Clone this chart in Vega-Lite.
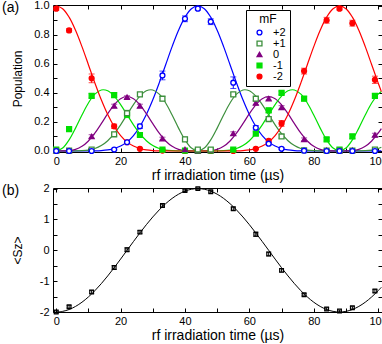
{
"$schema":"https://vega.github.io/schema/vega-lite/v6.json",
"autosize":{"type":"pad"},
"padding":{"left":1,"top":-1,"right":0,"bottom":0},
"background":"white",
"datasets":{
"curves":[
{"t":0,"-2":1,"-1":0,"0":0,"+1":0,"+2":0,"Sz":-2},
{"t":2,"-2":0.9798,"-1":0.02,"0":0.0002,"+1":0,"+2":0,"Sz":-1.9796},
{"t":4,"-2":0.9214,"-1":0.0762,"0":0.0024,"+1":0,"+2":0,"Sz":-1.919},
{"t":6,"-2":0.8311,"-1":0.1573,"0":0.0112,"+1":0.0004,"+2":0,"Sz":-1.8193},
{"t":8,"-2":0.7183,"-1":0.2477,"0":0.032,"+1":0.0018,"+2":0,"Sz":-1.6825},
{"t":10,"-2":0.5939,"-1":0.3305,"0":0.069,"+1":0.0064,"+2":0.0002,"Sz":-1.5115},
{"t":12,"-2":0.4687,"-1":0.391,"0":0.1223,"+1":0.017,"+2":0.0009,"Sz":-1.3097},
{"t":14,"-2":0.3521,"-1":0.42,"0":0.1878,"+1":0.0373,"+2":0.0028,"Sz":-1.0813},
{"t":16,"-2":0.2509,"-1":0.4144,"0":0.2567,"+1":0.0707,"+2":0.0073,"Sz":-0.8308},
{"t":18,"-2":0.1687,"-1":0.3781,"0":0.3178,"+1":0.1187,"+2":0.0166,"Sz":-0.5635},
{"t":20,"-2":0.1064,"-1":0.3196,"0":0.36,"+1":0.1802,"+2":0.0338,"Sz":-0.2846},
{"t":22,"-2":0.0625,"-1":0.25,"0":0.375,"+1":0.25,"+2":0.0625,"Sz":0},
{"t":24,"-2":0.0338,"-1":0.1802,"0":0.36,"+1":0.3196,"+2":0.1064,"Sz":0.2846},
{"t":26,"-2":0.0166,"-1":0.1187,"0":0.3178,"+1":0.3781,"+2":0.1687,"Sz":0.5635},
{"t":28,"-2":0.0073,"-1":0.0707,"0":0.2567,"+1":0.4144,"+2":0.2509,"Sz":0.8308},
{"t":30,"-2":0.0028,"-1":0.0373,"0":0.1878,"+1":0.42,"+2":0.3521,"Sz":1.0813},
{"t":32,"-2":0.0009,"-1":0.017,"0":0.1223,"+1":0.391,"+2":0.4687,"Sz":1.3097},
{"t":34,"-2":0.0002,"-1":0.0064,"0":0.069,"+1":0.3305,"+2":0.5939,"Sz":1.5115},
{"t":36,"-2":0,"-1":0.0018,"0":0.032,"+1":0.2477,"+2":0.7183,"Sz":1.6825},
{"t":38,"-2":0,"-1":0.0004,"0":0.0112,"+1":0.1573,"+2":0.8311,"Sz":1.8193},
{"t":40,"-2":0,"-1":0,"0":0.0024,"+1":0.0762,"+2":0.9214,"Sz":1.919},
{"t":42,"-2":0,"-1":0,"0":0.0002,"+1":0.02,"+2":0.9798,"Sz":1.9796},
{"t":44,"-2":0,"-1":0,"0":0,"+1":0,"+2":1,"Sz":2},
{"t":46,"-2":0,"-1":0,"0":0.0002,"+1":0.02,"+2":0.9798,"Sz":1.9796},
{"t":48,"-2":0,"-1":0,"0":0.0024,"+1":0.0762,"+2":0.9214,"Sz":1.919},
{"t":50,"-2":0,"-1":0.0004,"0":0.0112,"+1":0.1573,"+2":0.8311,"Sz":1.8193},
{"t":52,"-2":0,"-1":0.0018,"0":0.032,"+1":0.2477,"+2":0.7183,"Sz":1.6825},
{"t":54,"-2":0.0002,"-1":0.0064,"0":0.069,"+1":0.3305,"+2":0.5939,"Sz":1.5115},
{"t":56,"-2":0.0009,"-1":0.017,"0":0.1223,"+1":0.391,"+2":0.4687,"Sz":1.3097},
{"t":58,"-2":0.0028,"-1":0.0373,"0":0.1878,"+1":0.42,"+2":0.3521,"Sz":1.0813},
{"t":60,"-2":0.0073,"-1":0.0707,"0":0.2567,"+1":0.4144,"+2":0.2509,"Sz":0.8308},
{"t":62,"-2":0.0166,"-1":0.1187,"0":0.3178,"+1":0.3781,"+2":0.1687,"Sz":0.5635},
{"t":64,"-2":0.0338,"-1":0.1802,"0":0.36,"+1":0.3196,"+2":0.1064,"Sz":0.2846},
{"t":66,"-2":0.0625,"-1":0.25,"0":0.375,"+1":0.25,"+2":0.0625,"Sz":0},
{"t":68,"-2":0.1064,"-1":0.3196,"0":0.36,"+1":0.1802,"+2":0.0338,"Sz":-0.2846},
{"t":70,"-2":0.1687,"-1":0.3781,"0":0.3178,"+1":0.1187,"+2":0.0166,"Sz":-0.5635},
{"t":72,"-2":0.2509,"-1":0.4144,"0":0.2567,"+1":0.0707,"+2":0.0073,"Sz":-0.8308},
{"t":74,"-2":0.3521,"-1":0.42,"0":0.1878,"+1":0.0373,"+2":0.0028,"Sz":-1.0813},
{"t":76,"-2":0.4687,"-1":0.391,"0":0.1223,"+1":0.017,"+2":0.0009,"Sz":-1.3097},
{"t":78,"-2":0.5939,"-1":0.3305,"0":0.069,"+1":0.0064,"+2":0.0002,"Sz":-1.5115},
{"t":80,"-2":0.7183,"-1":0.2477,"0":0.032,"+1":0.0018,"+2":0,"Sz":-1.6825},
{"t":82,"-2":0.8311,"-1":0.1573,"0":0.0112,"+1":0.0004,"+2":0,"Sz":-1.8193},
{"t":84,"-2":0.9214,"-1":0.0762,"0":0.0024,"+1":0,"+2":0,"Sz":-1.919},
{"t":86,"-2":0.9798,"-1":0.02,"0":0.0002,"+1":0,"+2":0,"Sz":-1.9796},
{"t":88,"-2":1,"-1":0,"0":0,"+1":0,"+2":0,"Sz":-2},
{"t":90,"-2":0.9798,"-1":0.02,"0":0.0002,"+1":0,"+2":0,"Sz":-1.9796},
{"t":92,"-2":0.9214,"-1":0.0762,"0":0.0024,"+1":0,"+2":0,"Sz":-1.919},
{"t":94,"-2":0.8311,"-1":0.1573,"0":0.0112,"+1":0.0004,"+2":0,"Sz":-1.8193},
{"t":96,"-2":0.7183,"-1":0.2477,"0":0.032,"+1":0.0018,"+2":0,"Sz":-1.6825},
{"t":98,"-2":0.5939,"-1":0.3305,"0":0.069,"+1":0.0064,"+2":0.0002,"Sz":-1.5115},
{"t":100,"-2":0.4687,"-1":0.391,"0":0.1223,"+1":0.017,"+2":0.0009,"Sz":-1.3097},
{"t":101,"-2":0.4089,"-1":0.4098,"0":0.154,"+1":0.0257,"+2":0.0016,"Sz":-1.1986}
],
"pts":[
{"t":0,"m":"-2","P":0.98,"e":0.012},{"t":4,"m":"-2","P":0.83,"e":0.012},{"t":11,"m":"-2","P":0.5,"e":0.03},{"t":18,"m":"-2","P":0.17,"e":0.015},{"t":22,"m":"-2","P":0.06,"e":0.008},{"t":26,"m":"-2","P":0.015,"e":0.005},{"t":33,"m":"-2","P":0.003,"e":0.004},{"t":40,"m":"-2","P":0,"e":0.004},{"t":44,"m":"-2","P":0,"e":0.004},{"t":48,"m":"-2","P":0,"e":0.004},{"t":55,"m":"-2","P":0,"e":0.004},{"t":62,"m":"-2","P":0.015,"e":0.005},{"t":66,"m":"-2","P":0.07,"e":0.01},{"t":70,"m":"-2","P":0.19,"e":0.02},{"t":77,"m":"-2","P":0.55,"e":0.02},{"t":84,"m":"-2","P":0.9,"e":0.02},{"t":88,"m":"-2","P":0.98,"e":0.01},{"t":92,"m":"-2","P":0.88,"e":0.02},{"t":99,"m":"-2","P":0.49,"e":0.025},
{"t":0,"m":"-1","P":0.01,"e":0.008},{"t":4,"m":"-1","P":0.15,"e":0.012},{"t":11,"m":"-1","P":0.38,"e":0.015},{"t":18,"m":"-1","P":0.385,"e":0.015},{"t":22,"m":"-1","P":0.25,"e":0.02},{"t":26,"m":"-1","P":0.11,"e":0.012},{"t":33,"m":"-1","P":0.01,"e":0.006},{"t":40,"m":"-1","P":0.002,"e":0.004},{"t":44,"m":"-1","P":0,"e":0.004},{"t":48,"m":"-1","P":0.002,"e":0.004},{"t":55,"m":"-1","P":0.01,"e":0.006},{"t":62,"m":"-1","P":0.12,"e":0.012},{"t":66,"m":"-1","P":0.28,"e":0.015},{"t":70,"m":"-1","P":0.4,"e":0.012},{"t":77,"m":"-1","P":0.36,"e":0.015},{"t":84,"m":"-1","P":0.08,"e":0.012},{"t":88,"m":"-1","P":0.01,"e":0.006},{"t":92,"m":"-1","P":0.1,"e":0.015},{"t":99,"m":"-1","P":0.38,"e":0.015},
{"t":0,"m":"0","P":0.002,"e":0.004},{"t":4,"m":"0","P":0.003,"e":0.005},{"t":11,"m":"0","P":0.1,"e":0.012},{"t":18,"m":"0","P":0.31,"e":0.012},{"t":22,"m":"0","P":0.37,"e":0.01},{"t":26,"m":"0","P":0.31,"e":0.012},{"t":33,"m":"0","P":0.085,"e":0.01},{"t":40,"m":"0","P":0.01,"e":0.005},{"t":44,"m":"0","P":0.002,"e":0.004},{"t":48,"m":"0","P":0.003,"e":0.005},{"t":55,"m":"0","P":0.12,"e":0.012},{"t":62,"m":"0","P":0.33,"e":0.012},{"t":66,"m":"0","P":0.36,"e":0.01},{"t":70,"m":"0","P":0.3,"e":0.012},{"t":77,"m":"0","P":0.08,"e":0.01},{"t":84,"m":"0","P":0.005,"e":0.005},{"t":88,"m":"0","P":0.002,"e":0.004},{"t":92,"m":"0","P":0.005,"e":0.005},{"t":99,"m":"0","P":0.11,"e":0.012},
{"t":0,"m":"+1","P":0.002,"e":0.004},{"t":4,"m":"+1","P":0.002,"e":0.004},{"t":11,"m":"+1","P":0.01,"e":0.006},{"t":18,"m":"+1","P":0.115,"e":0.012},{"t":22,"m":"+1","P":0.26,"e":0.02},{"t":26,"m":"+1","P":0.39,"e":0.012},{"t":33,"m":"+1","P":0.36,"e":0.015},{"t":40,"m":"+1","P":0.08,"e":0.015},{"t":44,"m":"+1","P":0.01,"e":0.006},{"t":48,"m":"+1","P":0.01,"e":0.006},{"t":55,"m":"+1","P":0.39,"e":0.012},{"t":62,"m":"+1","P":0.36,"e":0.012},{"t":66,"m":"+1","P":0.22,"e":0.015},{"t":70,"m":"+1","P":0.1,"e":0.012},{"t":77,"m":"+1","P":0.005,"e":0.005},{"t":84,"m":"+1","P":0.002,"e":0.004},{"t":88,"m":"+1","P":0.002,"e":0.004},{"t":92,"m":"+1","P":0.002,"e":0.004},{"t":99,"m":"+1","P":0.01,"e":0.006},
{"t":0,"m":"+2","P":0,"e":0.004},{"t":4,"m":"+2","P":0,"e":0.004},{"t":11,"m":"+2","P":0,"e":0.004},{"t":18,"m":"+2","P":0.01,"e":0.005},{"t":22,"m":"+2","P":0.06,"e":0.008},{"t":26,"m":"+2","P":0.17,"e":0.015},{"t":33,"m":"+2","P":0.52,"e":0.03},{"t":40,"m":"+2","P":0.91,"e":0.02},{"t":44,"m":"+2","P":0.98,"e":0.01},{"t":48,"m":"+2","P":0.89,"e":0.02},{"t":55,"m":"+2","P":0.47,"e":0.04},{"t":62,"m":"+2","P":0.16,"e":0.015},{"t":66,"m":"+2","P":0.05,"e":0.01},{"t":70,"m":"+2","P":0.015,"e":0.006},{"t":77,"m":"+2","P":0.002,"e":0.004},{"t":84,"m":"+2","P":0,"e":0.004},{"t":88,"m":"+2","P":0,"e":0.004},{"t":92,"m":"+2","P":0,"e":0.004},{"t":99,"m":"+2","P":0,"e":0.004}
],
"sz":[
{"t":0,"S":-2.0,"e":0.04},{"t":4,"S":-1.83,"e":0.04},{"t":11,"S":-1.35,"e":0.05},{"t":18,"S":-0.56,"e":0.06},{"t":22,"S":0.02,"e":0.06},{"t":26,"S":0.59,"e":0.05},{"t":33,"S":1.45,"e":0.04},{"t":40,"S":1.94,"e":0.04},{"t":44,"S":2.0,"e":0.03},{"t":48,"S":1.9,"e":0.04},{"t":55,"S":1.35,"e":0.05},{"t":62,"S":0.52,"e":0.07},{"t":66,"S":-0.12,"e":0.06},{"t":70,"S":-0.65,"e":0.05},{"t":77,"S":-1.44,"e":0.04},{"t":84,"S":-1.9,"e":0.04},{"t":88,"S":-1.97,"e":0.03},{"t":92,"S":-1.86,"e":0.04},{"t":99,"S":-1.32,"e":0.05}
]
},
"vconcat":[
{
"width":329,"height":147,
"title":{"text":"(a)","anchor":"start","frame":"group","dx":-51,"dy":22,"offset":0,"fontSize":14,"fontWeight":"normal","font":"Liberation Sans","baseline":"middle"},
"layer":[
{"data":{"name":"curves"},
"transform":[{"fold":["+2","+1","0","-1","-2"],"as":["m","P"]}],
"mark":{"type":"line","interpolate":"catmull-rom","strokeWidth":1.2},
"encoding":{
"x":{"field":"t","type":"quantitative","scale":{"domain":[-1,101.2],"nice":false,"zero":false},
"axis":{"orient":"bottom","values":[0,10,20,30,40,50,60,70,80,90,100],"labelExpr":"datum.value % 20 == 0 ? datum.label : ''","tickSize":-4,"labelPadding":7,"title":"rf irradiation time (µs)","titleFontSize":14,"titlePadding":2}},
"y":{"field":"P","type":"quantitative","scale":{"domain":[-0.007,1.005],"nice":false,"zero":false},
"axis":{"orient":"left","values":[0,0.1,0.2,0.3,0.4,0.5,0.6,0.7,0.8,0.9,1.0],"labelExpr":"round(datum.value*10) % 2 == 0 ? format(datum.value, '.1f') : ''","tickSize":-4,"labelPadding":8,"title":"Population","titleFontSize":12,"titlePadding":9}},
"color":{"field":"m","type":"nominal","scale":{"domain":["-2","-1","0","+1","+2"],"range":["#ff0000","#00e000","#800080","#3d8f3d","#0000ff"]},"legend":null}
}},
{"data":{"name":"pts"},
"mark":{"type":"errorbar","ticks":{"size":6},"thickness":1},
"encoding":{
"x":{"field":"t","type":"quantitative","scale":{"domain":[-1,101.2],"nice":false,"zero":false},"axis":null},
"y":{"field":"P","type":"quantitative","scale":{"domain":[-0.007,1.005],"nice":false,"zero":false},"axis":null},
"yError":{"field":"e"},
"color":{"field":"m","type":"nominal","scale":{"domain":["-2","-1","0","+1","+2"],"range":["#ff0000","#00e000","#800080","#3d8f3d","#0000ff"]},"legend":null}
}},
{"data":{"name":"pts"},
"mark":{"type":"point","size":24,"strokeWidth":1.3,"opacity":1,"fillOpacity":1},
"encoding":{
"x":{"field":"t","type":"quantitative","scale":{"domain":[-1,101.2],"nice":false,"zero":false},
"axis":{"orient":"top","values":[0,10,20,30,40,50,60,70,80,90,100],"labels":false,"tickSize":-4,"title":null}},
"y":{"field":"P","type":"quantitative","scale":{"domain":[-0.007,1.005],"nice":false,"zero":false},
"axis":{"orient":"right","values":[0,0.1,0.2,0.3,0.4,0.5,0.6,0.7,0.8,0.9,1.0],"labels":false,"tickSize":-4,"title":null}},
"shape":{"field":"m","type":"nominal","title":"mF","scale":{"domain":["+2","+1","0","-1","-2"],"range":["circle","square","triangle-up","square","circle"]},
"legend":{"orient":"none","legendX":193,"legendY":5,"strokeColor":"black","fillColor":"white","padding":4,"symbolOffset":4,"labelOffset":8,"rowPadding":-2.5,"titlePadding":1,"titleFontSize":12,"titleFontWeight":"normal","titleAnchor":"middle","labelFontSize":11,"symbolSize":24,"symbolStrokeWidth":1.3}},
"stroke":{"field":"m","type":"nominal","title":"mF","scale":{"domain":["+2","+1","0","-1","-2"],"range":["#0000ff","#3d8f3d","#800080","#00e000","#ff0000"]},
"legend":{"orient":"none","legendX":193,"legendY":5,"strokeColor":"black","fillColor":"white","padding":4,"symbolOffset":4,"labelOffset":8,"rowPadding":-2.5,"titlePadding":1,"titleFontSize":12,"titleFontWeight":"normal","titleAnchor":"middle","labelFontSize":11,"symbolSize":24,"symbolStrokeWidth":1.3}},
"fill":{"field":"m","type":"nominal","title":"mF","scale":{"domain":["+2","+1","0","-1","-2"],"range":["#ffffff","#ffffff","#800080","#00e000","#ff0000"]},
"legend":{"orient":"none","legendX":193,"legendY":5,"strokeColor":"black","fillColor":"white","padding":4,"symbolOffset":4,"labelOffset":8,"rowPadding":-2.5,"titlePadding":1,"titleFontSize":12,"titleFontWeight":"normal","titleAnchor":"middle","labelFontSize":11,"symbolSize":24,"symbolStrokeWidth":1.3}}
}}
],
"resolve":{"axis":{"x":"independent","y":"independent"}}
},
{
"width":329,"height":124,
"title":{"text":"(b)","anchor":"start","frame":"group","dx":-51,"dy":22,"offset":0,"fontSize":14,"fontWeight":"normal","font":"Liberation Sans","baseline":"middle"},
"layer":[
{"data":{"name":"curves"},
"mark":{"type":"line","interpolate":"catmull-rom","strokeWidth":1,"color":"black"},
"encoding":{
"x":{"field":"t","type":"quantitative","scale":{"domain":[-1,101.2],"nice":false,"zero":false},
"axis":{"orient":"bottom","values":[0,10,20,30,40,50,60,70,80,90,100],"labelExpr":"datum.value % 20 == 0 ? datum.label : ''","tickSize":-4,"labelPadding":7,"title":"rf irradiation time (µs)","titleFontSize":14,"titlePadding":2}},
"y":{"field":"Sz","type":"quantitative","scale":{"domain":[-2.0,2.02],"nice":false,"zero":false},
"axis":{"orient":"left","values":[-2,-1.5,-1,-0.5,0,0.5,1,1.5,2],"labelExpr":"datum.value % 1 == 0 ? toString(datum.value) : ''","tickSize":-4,"labelPadding":8,"title":"<Sz>","titleFontSize":12,"titlePadding":15}}
}},
{"data":{"name":"sz"},
"mark":{"type":"errorbar","ticks":{"size":5},"thickness":1,"color":"black"},
"encoding":{
"x":{"field":"t","type":"quantitative","scale":{"domain":[-1,101.2],"nice":false,"zero":false},"axis":null},
"y":{"field":"S","type":"quantitative","scale":{"domain":[-2.0,2.02],"nice":false,"zero":false},"axis":null},
"yError":{"field":"e"}
}},
{"data":{"name":"sz"},
"mark":{"type":"point","shape":"square","size":14,"strokeWidth":1.2,"color":"black","filled":false,"opacity":1},
"encoding":{
"x":{"field":"t","type":"quantitative","scale":{"domain":[-1,101.2],"nice":false,"zero":false},
"axis":{"orient":"top","values":[0,10,20,30,40,50,60,70,80,90,100],"labels":false,"tickSize":-4,"title":null}},
"y":{"field":"S","type":"quantitative","scale":{"domain":[-2.0,2.02],"nice":false,"zero":false},
"axis":{"orient":"right","values":[-2,-1.5,-1,-0.5,0,0.5,1,1.5,2],"labels":false,"tickSize":-4,"title":null}}
}}
],
"resolve":{"axis":{"x":"independent","y":"independent"}}
}
],
"spacing":36,
"bounds":"flush",
"config":{
"font":"Liberation Sans",
"view":{"stroke":"black","strokeWidth":1},
"axis":{"labelFont":"Liberation Sans","labelFontSize":11,"labelColor":"black","titleFont":"Liberation Sans","titleFontWeight":"normal","titleColor":"black","tickColor":"black","grid":false,"domain":false},
"legend":{"labelFont":"Liberation Sans","titleFont":"Liberation Sans","labelColor":"black","titleColor":"black"}
}
}
